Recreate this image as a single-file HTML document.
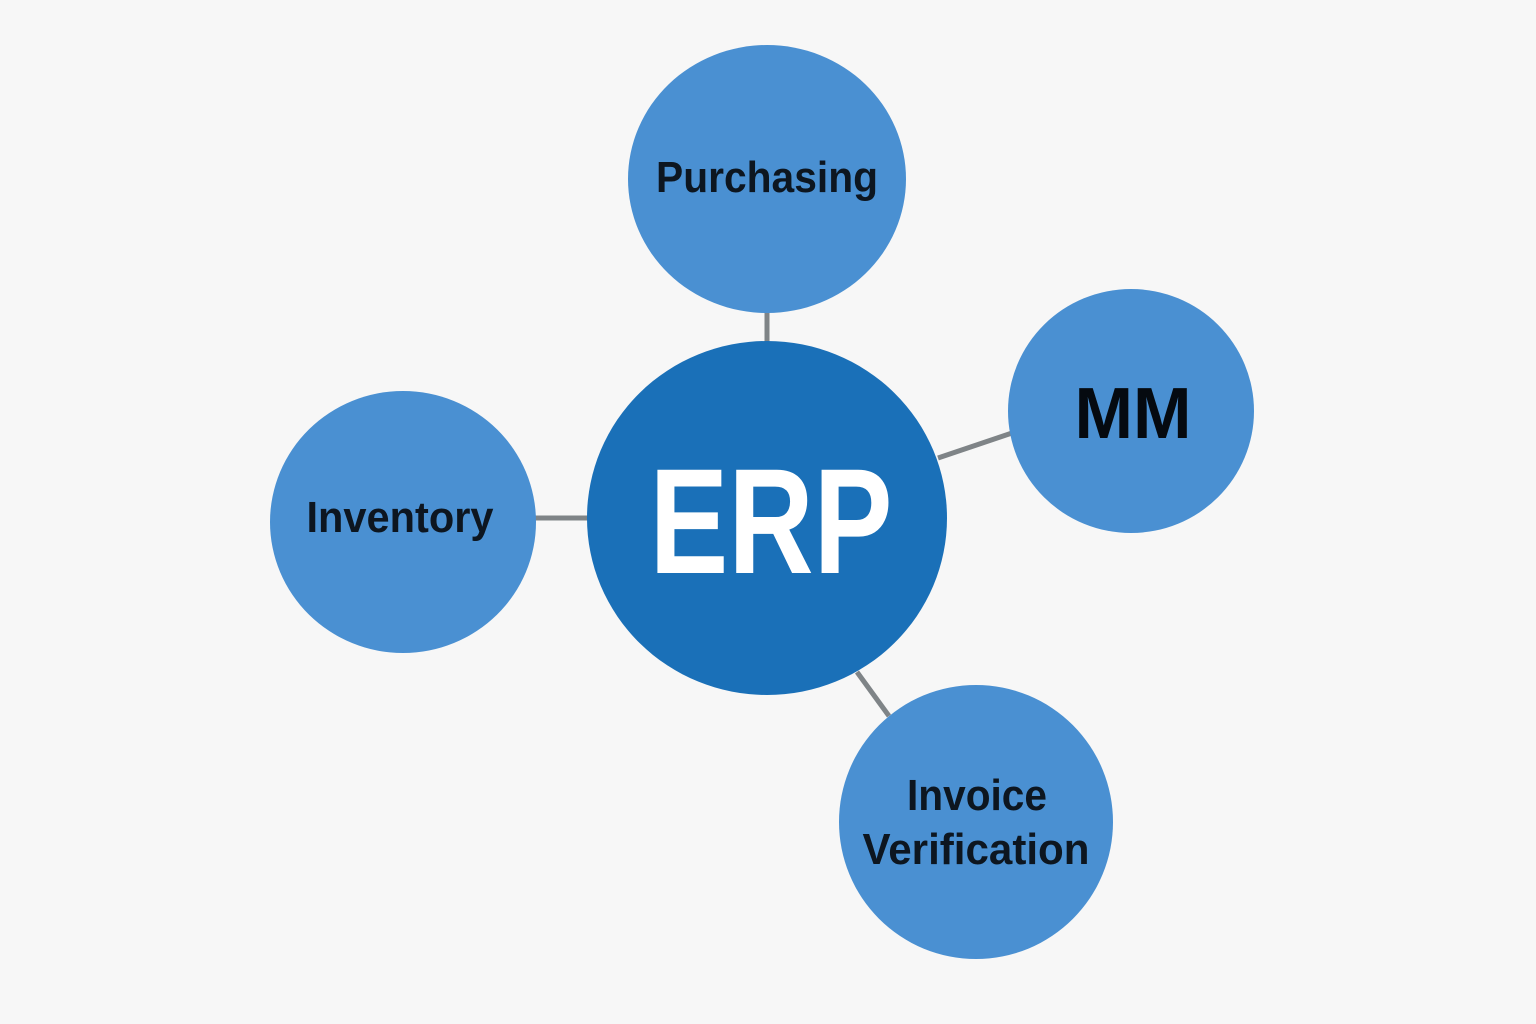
<!DOCTYPE html>
<html><head><meta charset="utf-8"><style>
html,body{margin:0;padding:0;background:#f7f7f7;}
svg{display:block;}
text{font-family:"Liberation Sans",sans-serif;font-weight:bold;}
</style></head><body>
<svg width="1536" height="1024" viewBox="0 0 1536 1024">
<rect width="1536" height="1024" fill="#f7f7f7"/>
<g stroke="#7f8487" stroke-width="5">
<line x1="767" y1="310" x2="767" y2="345"/>
<line x1="534" y1="518" x2="590" y2="518"/>
<line x1="938" y1="458" x2="1012" y2="433"/>
<line x1="857" y1="672" x2="889" y2="716"/>
</g>
<ellipse cx="767" cy="179" rx="139" ry="134" fill="#4a90d2"/>
<ellipse cx="1131" cy="411" rx="123" ry="122" fill="#4a90d2"/>
<ellipse cx="403" cy="522" rx="133" ry="131" fill="#4a90d2"/>
<ellipse cx="976" cy="822" rx="137" ry="137" fill="#4a90d2"/>
<ellipse cx="767" cy="518" rx="180" ry="177" fill="#1a70b8"/>
<text x="767" y="192" font-size="44" text-anchor="middle" textLength="222" lengthAdjust="spacingAndGlyphs" fill="#0d1620">Purchasing</text>
<text x="1133" y="438" font-size="72" text-anchor="middle" textLength="117" lengthAdjust="spacingAndGlyphs" fill="#050a10">MM</text>
<text x="400" y="532" font-size="44" text-anchor="middle" textLength="187" lengthAdjust="spacingAndGlyphs" fill="#0d1620">Inventory</text>
<text x="977" y="810" font-size="44" text-anchor="middle" textLength="140" lengthAdjust="spacingAndGlyphs" fill="#0d1620">Invoice</text>
<text x="976" y="864" font-size="44" text-anchor="middle" textLength="227" lengthAdjust="spacingAndGlyphs" fill="#0d1620">Verification</text>
<text x="771" y="573" font-size="150" text-anchor="middle" textLength="243" lengthAdjust="spacingAndGlyphs" fill="#ffffff">ERP</text>
</svg>
</body></html>
